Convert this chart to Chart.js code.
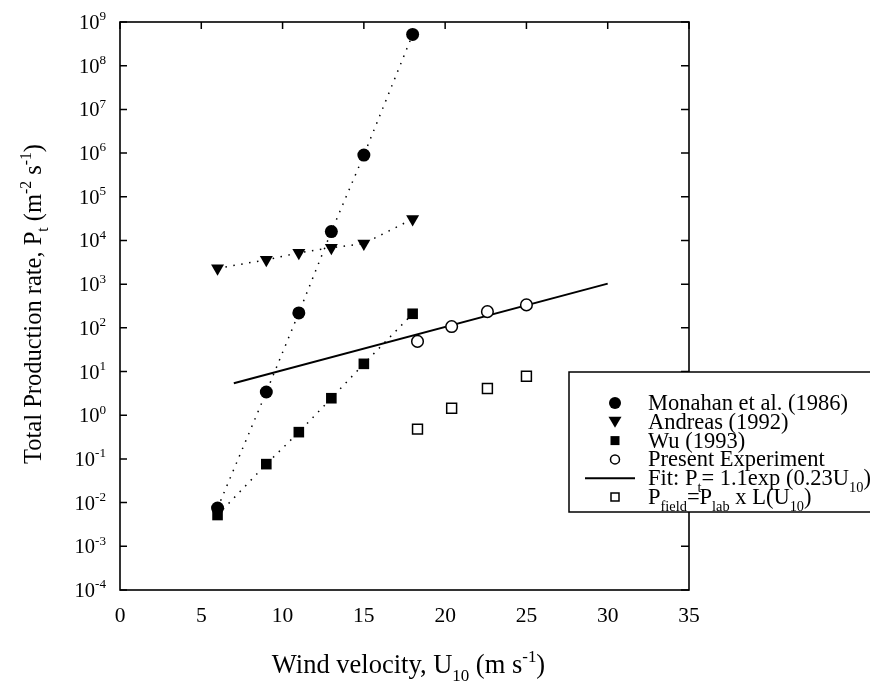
<!DOCTYPE html>
<html>
<head>
<meta charset="utf-8">
<script src="https://cdn.jsdelivr.net/npm/chart.js@4"></script>
<style>body{margin:0;background:#fff}</style>
</head>
<body>
<canvas id="chart" width="870" height="681"></canvas>
<script>
// values (wind speed in m/s, production rate in m^-2 s^-1)
const monahanU = [6, 9, 11, 13, 15, 18];
const monahanP = [7.5e-3, 3.4, 220, 1.6e4, 9e5, 5.2e8];

const andreasU = [6, 9, 11, 13, 15, 18];
const andreasP = [2300, 3600, 5200, 6800, 8500, 3.1e4];

const wuU = [6, 9, 11, 13, 15, 18];
const wuP = [5.2e-3, 0.076, 0.41, 2.45, 15, 210];

const presentU = [18.3, 20.4, 22.6, 25.0];
const presentP = [49, 107, 235, 335];

const fitU = [7, 30];
const fitP = [5.4, 1030];

const fieldU = [18.3, 20.4, 22.6, 25.0];
const fieldP = [0.48, 1.45, 4.1, 7.8];

const xTicks = [0, 5, 10, 15, 20, 25, 30, 35];
const yTickPowers = [-4, -3, -2, -1, 0, 1, 2, 3, 4, 5, 6, 7, 8, 9];

const legendItems = [
    { label: [['Monahan et al. (1986)', '']], marker: 'dot' },
    { label: [['Andreas (1992)', '']], marker: 'tri' },
    { label: [['Wu (1993)', '']], marker: 'sq' },
    { label: [['Present Experiment', '']], marker: 'ring' },
    { label: [['Fit: P', ''], ['t', 'sub'], ['= 1.1exp (0.23U', ''], ['10', 'sub'], [')', '']], marker: 'line' },
    { label: [['P', ''], ['field', 'sub'], ['=P', ''], ['lab', 'sub'], [' x L(U', ''], ['10', 'sub'], [')', '']], marker: 'box' },
];

const FONT = '"Liberation Serif", "Times New Roman", serif';

const pts = (us, ps) => us.map((u, i) => ({ x: u, y: ps[i] }));

function setFont(ctx, size) {
    ctx.font = size + 'px ' + FONT;
}

function richWidth(ctx, segs, size) {
    let w = 0;
    segs.forEach(([t, m]) => {
        setFont(ctx, m ? size * 0.64 : size);
        w += ctx.measureText(t).width;
    });
    return w;
}

function drawRich(ctx, segs, x, y, size, align) {
    const w = richWidth(ctx, segs, size);
    let cx = align === 'center' ? x - w / 2 : align === 'right' ? x - w : x;
    ctx.textAlign = 'left';
    ctx.textBaseline = 'alphabetic';
    segs.forEach(([t, m]) => {
        setFont(ctx, m ? size * 0.64 : size);
        const dy = m === 'sup' ? -size * 0.42 : m === 'sub' ? size * 0.3 : 0;
        ctx.fillText(t, cx, y + dy);
        cx += ctx.measureText(t).width;
    });
}

function drawMarker(ctx, kind, x, y) {
    ctx.save();
    ctx.fillStyle = '#000';
    ctx.strokeStyle = '#000';
    ctx.lineWidth = 1.5;
    ctx.beginPath();
    if (kind === 'dot') {
        ctx.arc(x, y, 6, 0, Math.PI * 2);
        ctx.fill();
    } else if (kind === 'tri') {
        ctx.moveTo(x - 6.5, y - 5);
        ctx.lineTo(x + 6.5, y - 5);
        ctx.lineTo(x, y + 6);
        ctx.closePath();
        ctx.fill();
    } else if (kind === 'sq') {
        ctx.rect(x - 4.5, y - 4.5, 9, 9);
        ctx.fill();
    } else if (kind === 'ring') {
        ctx.arc(x, y, 4.5, 0, Math.PI * 2);
        ctx.stroke();
    } else if (kind === 'line') {
        ctx.lineWidth = 2;
        ctx.moveTo(585, y);
        ctx.lineTo(635, y);
        ctx.stroke();
    } else if (kind === 'box') {
        ctx.rect(x - 4, y - 4, 8, 8);
        ctx.stroke();
    }
    ctx.restore();
}

const framePlugin = {
    id: 'frame',
    afterDraw(chart) {
        const ctx = chart.ctx;
        const a = chart.chartArea;
        const xs = chart.scales.x;
        const ys = chart.scales.y;
        ctx.save();
        ctx.strokeStyle = '#000';
        ctx.fillStyle = '#000';

        // inward ticks: left, right, top
        ctx.lineWidth = 1.5;
        ctx.beginPath();
        yTickPowers.forEach(p => {
            const py = ys.getPixelForValue(Math.pow(10, p));
            ctx.moveTo(a.left, py);
            ctx.lineTo(a.left + 7, py);
            ctx.moveTo(a.right, py);
            ctx.lineTo(a.right - 8, py);
        });
        xTicks.forEach(t => {
            const px = xs.getPixelForValue(t);
            ctx.moveTo(px, a.top);
            ctx.lineTo(px, a.top + 7);
        });
        ctx.stroke();

        // box
        ctx.lineWidth = 1.6;
        ctx.strokeRect(a.left, a.top, a.right - a.left, a.bottom - a.top);

        // tick labels
        yTickPowers.forEach(p => {
            const py = ys.getPixelForValue(Math.pow(10, p));
            drawRich(ctx, [['10', ''], [String(p), 'sup']], 106, py + 7, 20.5, 'right');
        });
        xTicks.forEach(t => {
            drawRich(ctx, [[String(t), '']], xs.getPixelForValue(t), 622, 21.5, 'center');
        });

        // axis titles
        drawRich(ctx, [['Wind velocity, U', ''], ['10', 'sub'], [' (m s', ''], ['-1', 'sup'], [')', '']],
            (a.left + a.right) / 2 + 4, 673, 26.5, 'center');
        ctx.save();
        ctx.translate(41, (a.top + a.bottom) / 2 - 2);
        ctx.rotate(-Math.PI / 2);
        drawRich(ctx, [['Total Production rate, P', ''], ['t', 'sub'], [' (m', ''], ['-2', 'sup'], [' s', ''], ['-1', 'sup'], [')', '']],
            0, 0, 24.5, 'center');
        ctx.restore();

        // legend box over the plot
        ctx.fillStyle = '#fff';
        ctx.fillRect(569, 372, 320, 140);
        ctx.lineWidth = 1.5;
        ctx.strokeRect(569, 372, 320, 140);
        ctx.fillStyle = '#000';
        legendItems.forEach((item, i) => {
            const cy = 403 + i * 18.8;
            drawMarker(ctx, item.marker, 615, cy);
            drawRich(ctx, item.label, 648, cy + 7, 22.5, 'left');
        });
        ctx.restore();
    }
};

new Chart(document.getElementById('chart'), {
    type: 'scatter',
    data: {
        datasets: [
            {
                label: 'Monahan et al. (1986)',
                data: pts(monahanU, monahanP),
                showLine: true,
                borderColor: '#000',
                borderWidth: 1.5,
                borderDash: [1.5, 6.5],
                pointStyle: 'circle',
                pointRadius: 6.5,
                pointBackgroundColor: '#000',
                pointBorderWidth: 0,
            },
            {
                label: 'Andreas (1992)',
                data: pts(andreasU, andreasP),
                showLine: true,
                borderColor: '#000',
                borderWidth: 1.5,
                borderDash: [1.5, 6.5],
                pointStyle: 'triangle',
                rotation: 180,
                pointRadius: 7.5,
                pointBackgroundColor: '#000',
                pointBorderWidth: 0,
            },
            {
                label: 'Wu (1993)',
                data: pts(wuU, wuP),
                showLine: true,
                borderColor: '#000',
                borderWidth: 1.5,
                borderDash: [1.5, 6.5],
                pointStyle: 'rect',
                pointRadius: 7.5,
                pointBackgroundColor: '#000',
                pointBorderWidth: 0,
            },
            {
                label: 'Present Experiment',
                data: pts(presentU, presentP),
                pointStyle: 'circle',
                pointRadius: 5.8,
                pointBackgroundColor: '#fff',
                pointBorderColor: '#000',
                pointBorderWidth: 1.5,
            },
            {
                label: 'Fit',
                data: pts(fitU, fitP),
                showLine: true,
                borderColor: '#000',
                borderWidth: 2,
                pointRadius: 0,
            },
            {
                label: 'Pfield',
                data: pts(fieldU, fieldP),
                pointStyle: 'rect',
                pointRadius: 7,
                pointBackgroundColor: '#fff',
                pointBorderColor: '#000',
                pointBorderWidth: 1.5,
            },
        ]
    },
    options: {
        responsive: false,
        animation: false,
        layout: {
            autoPadding: false,
            padding: { left: 120, top: 22, right: 181, bottom: 91 }
        },
        scales: {
            x: { type: 'linear', min: 0, max: 35, display: false },
            y: { type: 'logarithmic', min: 1e-4, max: 1e9, display: false }
        },
        plugins: {
            legend: { display: false },
            tooltip: { enabled: false }
        }
    },
    plugins: [framePlugin]
});
</script>
</body>
</html>
